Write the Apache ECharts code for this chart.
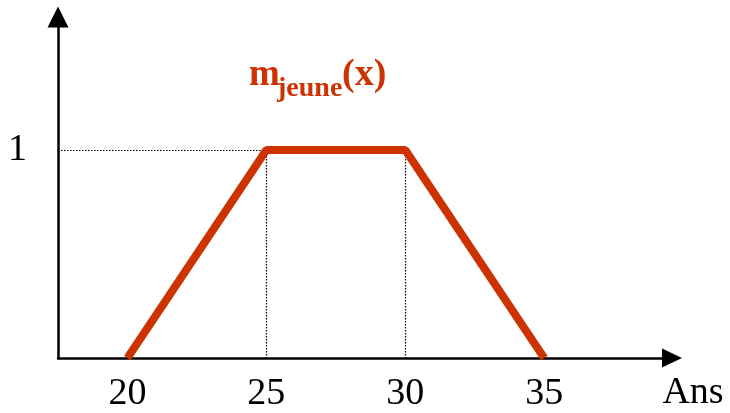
<!DOCTYPE html>
<html>
<head>
<meta charset="utf-8">
<title>m jeune (x)</title>
<script src="https://cdn.jsdelivr.net/npm/echarts@6/dist/echarts.min.js"></script>
<style>
  html, body { margin: 0; padding: 0; background: #fff; }
  #chart { width: 730px; height: 413px; }
</style>
</head>
<body>
<div id="chart"></div>
<script>
// Trapezoidal membership function of the fuzzy set "jeune" over age (years)
const ages = [20, 25, 30, 35];
const membership = [0, 1, 1, 0];
const xTickLabels = [20, 25, 30, 35];
const yTickLabels = [1];
const xAxisName = 'Ans';

const RED = '#CC3300';
const SERIF = '"Liberation Serif", "Times New Roman", serif';
const X_MIN = 17.5, X_MAX = 39.6, Y_MIN = 0, Y_MAX = 1.64;

const points = ages.map((a, i) => [a, membership[i]]);

// Dotted guides: from the y axis to the left shoulder, and down from both shoulders
const shoulders = points.filter(p => p[1] === 1);
const guides = [
  [{ coord: [X_MIN, shoulders[0][1]] }, { coord: shoulders[0] }],
  ...shoulders.map(p => [{ coord: p }, { coord: [p[0], Y_MIN] }])
];

const chart = echarts.init(document.getElementById('chart'), null, { renderer: 'canvas' });

chart.setOption({
  animation: false,
  backgroundColor: '#fff',
  grid: { left: 58, right: 58, top: 17, bottom: 55, containLabel: false },
  xAxis: {
    type: 'value',
    min: X_MIN,
    max: X_MAX,
    name: xAxisName,
    nameLocation: 'end',
    nameGap: 21,
    nameTextStyle: {
      fontFamily: SERIF, fontSize: 38, color: '#000',
      align: 'center', verticalAlign: 'top', padding: [16, 0, 0, 0]
    },
    splitLine: { show: false },
    axisTick: { show: false },
    axisLine: {
      show: true,
      onZero: false,
      symbol: ['none', 'triangle'],
      symbolSize: [19, 20],
      lineStyle: { color: '#000', width: 2.5 }
    },
    axisLabel: {
      customValues: xTickLabels,
      fontFamily: SERIF, fontSize: 38, color: '#000',
      margin: 17
    }
  },
  yAxis: {
    type: 'value',
    min: Y_MIN,
    max: Y_MAX,
    splitLine: { show: false },
    axisTick: { show: false },
    axisLine: {
      show: true,
      onZero: false,
      symbol: ['none', 'triangle'],
      symbolSize: [21, 21],
      lineStyle: { color: '#000', width: 2.5 }
    },
    axisLabel: {
      customValues: yTickLabels,
      fontFamily: SERIF, fontSize: 38, color: '#000',
      margin: 31,
      padding: [9, 0, 0, 0]
    }
  },
  series: [{
    type: 'line',
    data: points,
    symbol: 'none',
    z: 5,
    lineStyle: { color: RED, width: 8, cap: 'butt', join: 'bevel' },
    markLine: {
      silent: true,
      symbol: ['none', 'none'],
      label: { show: false },
      lineStyle: { color: '#000', type: [1.5, 1.5], width: 1.2 },
      data: guides,
      z: 1
    }
  }],
  graphic: [
    {
      type: 'text', z: 10,
      style: { x: 249, y: 75, text: 'm', font: 'bold 37px ' + SERIF, fill: RED, verticalAlign: 'middle' }
    },
    {
      type: 'text', z: 10,
      style: { x: 277, y: 89, text: 'jeune', font: 'bold 28px ' + SERIF, fill: RED, verticalAlign: 'middle' }
    },
    {
      type: 'text', z: 10,
      style: { x: 342, y: 75, text: '(x)', font: 'bold 38px ' + SERIF, fill: RED, verticalAlign: 'middle' }
    }
  ]
});
</script>
</body>
</html>
